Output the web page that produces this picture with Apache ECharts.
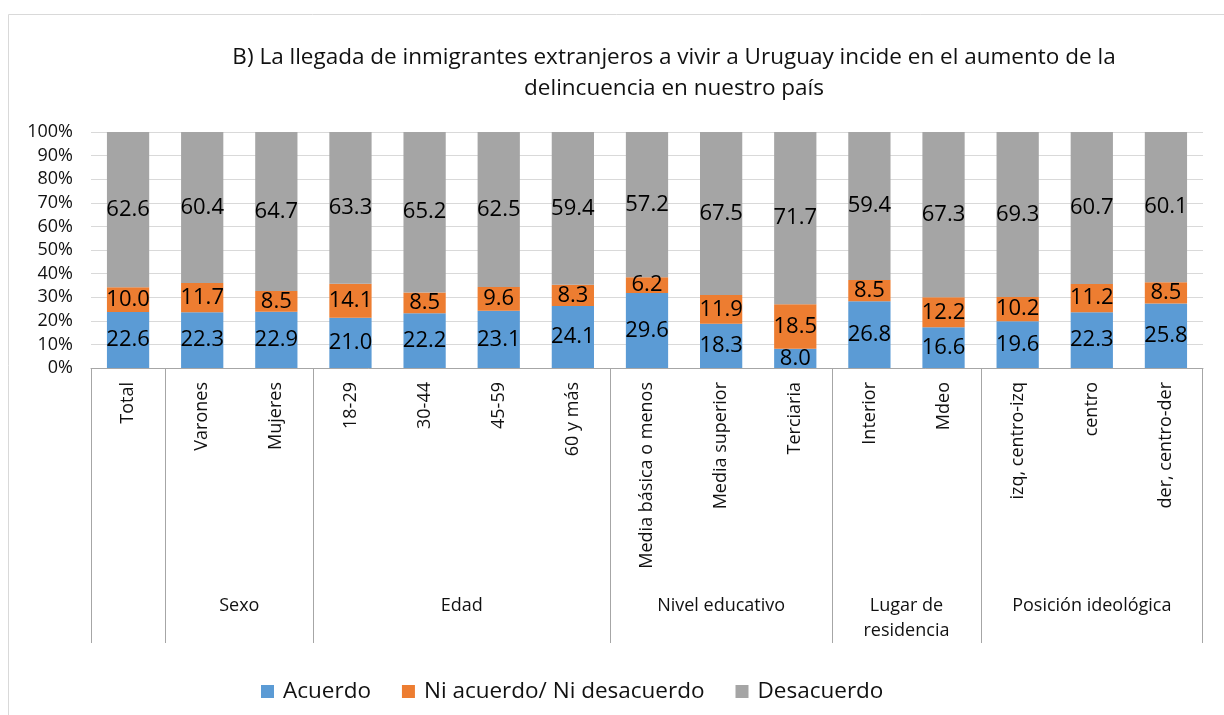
<!DOCTYPE html>
<html>
<head>
<meta charset="utf-8">
<script src="https://cdn.jsdelivr.net/npm/echarts@6/dist/echarts.min.js"></script>
<style>
  html, body { margin: 0; padding: 0; background: #fff; }
  #main { width: 1224px; height: 715px; }
</style>
</head>
<body>
<div id="main"></div>
<script>
var categories = ['Total', 'Varones', 'Mujeres', '18-29', '30-44', '45-59', '60 y más',
  'Media básica o menos', 'Media superior', 'Terciaria', 'Interior', 'Mdeo',
  'izq, centro-izq', 'centro', 'der, centro-der'];
// group label, first category index, number of categories
var groups = [
  ['', 0, 1],
  ['Sexo', 1, 2],
  ['Edad', 3, 4],
  ['Nivel educativo', 7, 3],
  ['Lugar de\nresidencia', 10, 2],
  ['Posición ideológica', 12, 3]
];
var acuerdo = [22.6, 22.3, 22.9, 21.0, 22.2, 23.1, 24.1, 29.6, 18.3, 8.0, 26.8, 16.6, 19.6, 22.3, 25.8];
var niAcuerdo = [10.0, 11.7, 8.5, 14.1, 8.5, 9.6, 8.3, 6.2, 11.9, 18.5, 8.5, 12.2, 10.2, 11.2, 8.5];
var desacuerdo = [62.6, 60.4, 64.7, 63.3, 65.2, 62.5, 59.4, 57.2, 67.5, 71.7, 59.4, 67.3, 69.3, 60.7, 60.1];
var seriesNames = ['Acuerdo', 'Ni acuerdo/ Ni desacuerdo', 'Desacuerdo'];
var colors = ['#5B9BD5', '#ED7D31', '#A5A5A5'];

var FONT = '"Open Sans", "Noto Sans", sans-serif';

var myChart = echarts.init(document.getElementById('main'));

// 100% stacked: each bar is normalised to the row total, labels keep the raw value
function share(arr, i) {
  return arr[i] / (acuerdo[i] + niAcuerdo[i] + desacuerdo[i]) * 100;
}
function makeSeries(name, arr, color) {
  return {
    name: name,
    type: 'bar',
    stack: 'total',
    barWidth: '57%',
    itemStyle: { color: color },
    label: {
      show: true,
      position: 'inside',
      color: '#000',
      fontFamily: FONT,
      fontSize: 22,
      formatter: function (p) { return arr[p.dataIndex].toFixed(1); }
    },
    data: arr.map(function (v, i) { return share(arr, i); })
  };
}

var option = {
  animation: false,
  textStyle: { fontFamily: FONT },
  title: {
    text: 'B) La llegada de inmigrantes extranjeros a vivir a Uruguay incide en el aumento de la\ndelincuencia en nuestro país',
    left: 669,
    top: 37,
    textAlign: 'center',
    textStyle: { fontFamily: FONT, fontSize: 22.5, fontWeight: 'normal', color: '#111', lineHeight: 31 }
  },
  legend: {
    data: seriesNames,
    left: 256,
    top: 675,
    icon: 'rect',
    itemWidth: 13,
    itemHeight: 13,
    itemGap: 31,
    textStyle: { fontFamily: FONT, fontSize: 22.5, color: '#111', padding: [0, 0, 0, 4] }
  },
  grid: { left: 91, right: 21, top: 132, bottom: 347, containLabel: false },
  xAxis: {
    type: 'category',
    data: categories,
    axisLine: { lineStyle: { color: '#A6A6A6', width: 1 } },
    axisTick: { show: false },
    axisLabel: { rotate: 90, interval: 0, margin: 14, fontSize: 18, color: '#111', fontFamily: FONT }
  },
  yAxis: {
    type: 'value',
    min: 0,
    max: 100,
    interval: 10,
    axisLine: { show: false },
    axisTick: { show: false },
    splitLine: { lineStyle: { color: '#D9D9D9' } },
    axisLabel: { formatter: '{value}%', margin: 18, fontSize: 18, color: '#111', fontFamily: FONT }
  },
  series: [
    makeSeries(seriesNames[0], acuerdo, colors[0]),
    makeSeries(seriesNames[1], niAcuerdo, colors[1]),
    makeSeries(seriesNames[2], desacuerdo, colors[2])
  ]
};
myChart.setOption(option);

// group separators and group labels under the category axis
var x0 = myChart.convertToPixel({ xAxisIndex: 0 }, 0);
var x1 = myChart.convertToPixel({ xAxisIndex: 0 }, 1);
var band = x1 - x0;
var axisY = myChart.convertToPixel({ yAxisIndex: 0 }, 0);
var graphics = [
  { type: 'rect', silent: true, shape: { x: 8.5, y: 14.5, width: 1300, height: 800 },
    style: { fill: 'none', stroke: '#D9D9D9', lineWidth: 1 } }
];
groups.forEach(function (g) {
  var left = myChart.convertToPixel({ xAxisIndex: 0 }, g[1]) - band / 2;
  var right = left + band * g[2];
  graphics.push({ type: 'line', silent: true,
    shape: { x1: Math.round(left) + 0.5, y1: axisY, x2: Math.round(left) + 0.5, y2: 643 },
    style: { stroke: '#A6A6A6', lineWidth: 1 } });
  if (g[1] + g[2] === categories.length) {
    graphics.push({ type: 'line', silent: true,
      shape: { x1: Math.round(right) - 0.5, y1: axisY, x2: Math.round(right) - 0.5, y2: 643 },
      style: { stroke: '#A6A6A6', lineWidth: 1 } });
  }
  if (g[0]) {
    graphics.push({ type: 'text', silent: true, x: (left + right) / 2, y: 593,
      style: { text: g[0], align: 'center', verticalAlign: 'top', fontFamily: FONT, fontSize: 18,
        lineHeight: 25, fill: '#111' } });
  }
});
myChart.setOption({ graphic: graphics });
</script>
</body>
</html>
